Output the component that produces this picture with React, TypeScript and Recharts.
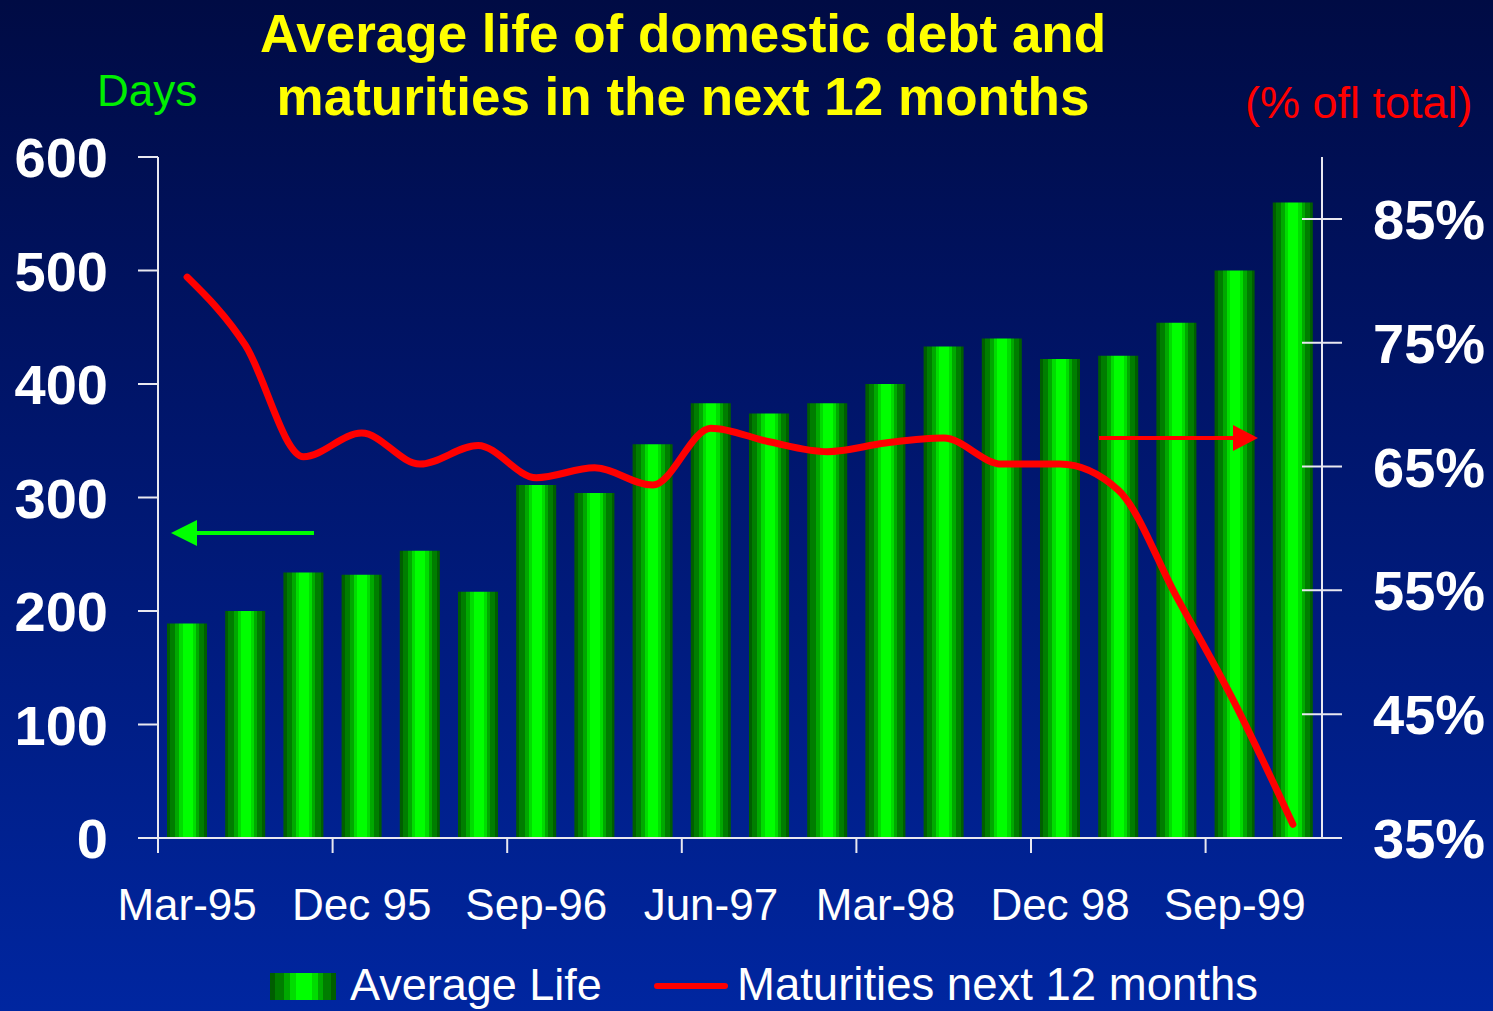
import { ComposedChart, Bar, Line, XAxis, YAxis } from 'recharts'

// quarterly observations, Mar-95 .. Dec-99
const quarters = [
  'Mar-95', 'Jun-95', 'Sep-95', 'Dec 95', 'Mar-96', 'Jun-96', 'Sep-96', 'Dec-96', 'Mar-97', 'Jun-97',
  'Sep-97', 'Dec-97', 'Mar-98', 'Jun-98', 'Sep-98', 'Dec 98', 'Mar-99', 'Jun-99', 'Sep-99', 'Dec-99'
]

// days
const averageLife = [189, 200, 234, 232, 253, 217, 311, 304, 347, 383, 374, 383, 400, 433, 440, 422, 425, 454, 500, 560]

// % of total
const maturities = [80.3, 74.8, 65.8, 67.7, 65.2, 66.7, 64.1, 64.9, 63.5, 68.1, 67.0, 66.2, 66.9, 67.3, 65.2, 65.2, 63.1, 54.5, 45.9, 36.1]

const leftTicks = [0, 100, 200, 300, 400, 500, 600]
const rightTicks = [35, 45, 55, 65, 75, 85]

const data = quarters.map((q, i) => ({ q, life: averageLife[i], mat: maturities[i] }))

const W = 1493
const H = 1011
const FONT = '"Liberation Sans", Arial, sans-serif'
const AXIS = '#e8e8f0'
const BAND = (1322 - 158) / quarters.length

const LeftTick = ({ x, y, payload }: any) => (
  <text x={x} y={y} dy={20} textAnchor="end" fill="#fff" fontFamily={FONT} fontWeight="bold" fontSize={56}>
    {payload.value}
  </text>
)

const RightTick = ({ x, y, payload }: any) => (
  <g>
    <line x1={x - 71} x2={x - 31} y1={y} y2={y} stroke={AXIS} strokeWidth={2} />
    <text x={x} y={y} dy={20} textAnchor="start" fill="#fff" fontFamily={FONT} fontWeight="bold" fontSize={56}>
      {payload.value}%
    </text>
  </g>
)

const BottomTick = ({ x, y, payload }: any) => (
  <g>
    <line x1={x - BAND / 2} x2={x - BAND / 2} y1={y - 15} y2={y} stroke={AXIS} strokeWidth={2} />
    <text x={x} y={y + 67} textAnchor="middle" fill="#fff" fontFamily={FONT} fontSize={44}>
      {payload.value}
    </text>
  </g>
)

function BarGradient({ id }: { id: string }) {
  return (
    <linearGradient id={id} x1="0" y1="0" x2="1" y2="0">
      <stop offset="0%" stopColor="#005e00" />
      <stop offset="8%" stopColor="#005e00" />
      <stop offset="8%" stopColor="#007d00" />
      <stop offset="21%" stopColor="#007d00" />
      <stop offset="21%" stopColor="#00a800" />
      <stop offset="31%" stopColor="#00a800" />
      <stop offset="31%" stopColor="#00dc00" />
      <stop offset="39%" stopColor="#00dc00" />
      <stop offset="39%" stopColor="#00ff00" />
      <stop offset="64%" stopColor="#00ff00" />
      <stop offset="64%" stopColor="#00dc00" />
      <stop offset="72%" stopColor="#00dc00" />
      <stop offset="72%" stopColor="#00a800" />
      <stop offset="80%" stopColor="#00a800" />
      <stop offset="80%" stopColor="#007d00" />
      <stop offset="93%" stopColor="#007d00" />
      <stop offset="93%" stopColor="#005e00" />
      <stop offset="100%" stopColor="#005e00" />
    </linearGradient>
  )
}

export default function App() {
  return (
    <div
      style={{
        position: 'absolute',
        left: 0,
        top: 0,
        width: W,
        height: H,
        background: 'linear-gradient(to bottom, #000b44 0%, #00156a 40%, #0026a0 100%)',
        overflow: 'hidden'
      }}
    >
      <ComposedChart width={W} height={H} data={data} margin={{ top: 157, right: 0, left: 0, bottom: 113 }}>
        <defs>
          <BarGradient id="barFill" />
        </defs>
        <XAxis
          dataKey="q"
          interval={2}
          height={60}
          tickSize={15}
          tickMargin={0}
          tickLine={false}
          axisLine={{ stroke: AXIS, strokeWidth: 2 }}
          tick={<BottomTick />}
        />
        <YAxis
          yAxisId="left"
          orientation="left"
          width={158}
          domain={[0, 600]}
          ticks={leftTicks}
          tickSize={20}
          tickMargin={30}
          axisLine={{ stroke: AXIS, strokeWidth: 2 }}
          tickLine={{ stroke: AXIS, strokeWidth: 2 }}
          tick={<LeftTick />}
        />
        <YAxis
          yAxisId="right"
          orientation="right"
          width={171}
          domain={[35, 90]}
          ticks={rightTicks}
          tickSize={20}
          tickMargin={31}
          axisLine={{ stroke: AXIS, strokeWidth: 2 }}
          tickLine={false}
          tick={<RightTick />}
        />
        <Bar yAxisId="left" dataKey="life" barSize={40} fill="url(#barFill)" isAnimationActive={false} />
        <Line
          yAxisId="right"
          dataKey="mat"
          type="monotone"
          stroke="#ff0000"
          strokeWidth={7}
          strokeLinecap="round"
          dot={false}
          activeDot={false}
          isAnimationActive={false}
        />
      </ComposedChart>

      <svg width={W} height={H} style={{ position: 'absolute', left: 0, top: 0, pointerEvents: 'none' }}>
        <defs>
          <BarGradient id="legendFill" />
        </defs>
        <g fontFamily={FONT} fontWeight="bold" fontSize={53} fill="#ffff00" textAnchor="middle">
          <text x={683} y={52}>Average life of domestic debt and</text>
          <text x={683} y={115}>maturities in the next 12 months</text>
        </g>
        <text x={97} y={106} fontFamily={FONT} fontSize={44} fill="#00ee00">Days</text>
        <text x={1245} y={118} fontFamily={FONT} fontSize={45} fill="#ff0000">(% ofl total)</text>

        {/* arrows pointing to each series' axis */}
        <line x1={314} x2={195} y1={533} y2={533} stroke="#00ff00" strokeWidth={4} />
        <polygon points="171,533 197,520 197,546" fill="#00ff00" />
        <line x1={1099} x2={1235} y1={438} y2={438} stroke="#ff0000" strokeWidth={4} />
        <polygon points="1258,438 1233,425 1233,451" fill="#ff0000" />

        {/* legend */}
        <rect x={270} y={973} width={66} height={27} fill="url(#legendFill)" />
        <text x={350} y={1000} fontFamily={FONT} fontSize={45} fill="#fff">Average Life</text>
        <line x1={657} x2={725} y1={986} y2={986} stroke="#ff0000" strokeWidth={6} strokeLinecap="round" />
        <text x={737} y={1000} fontFamily={FONT} fontSize={45.5} fill="#fff">Maturities next 12 months</text>
      </svg>
    </div>
  )
}
